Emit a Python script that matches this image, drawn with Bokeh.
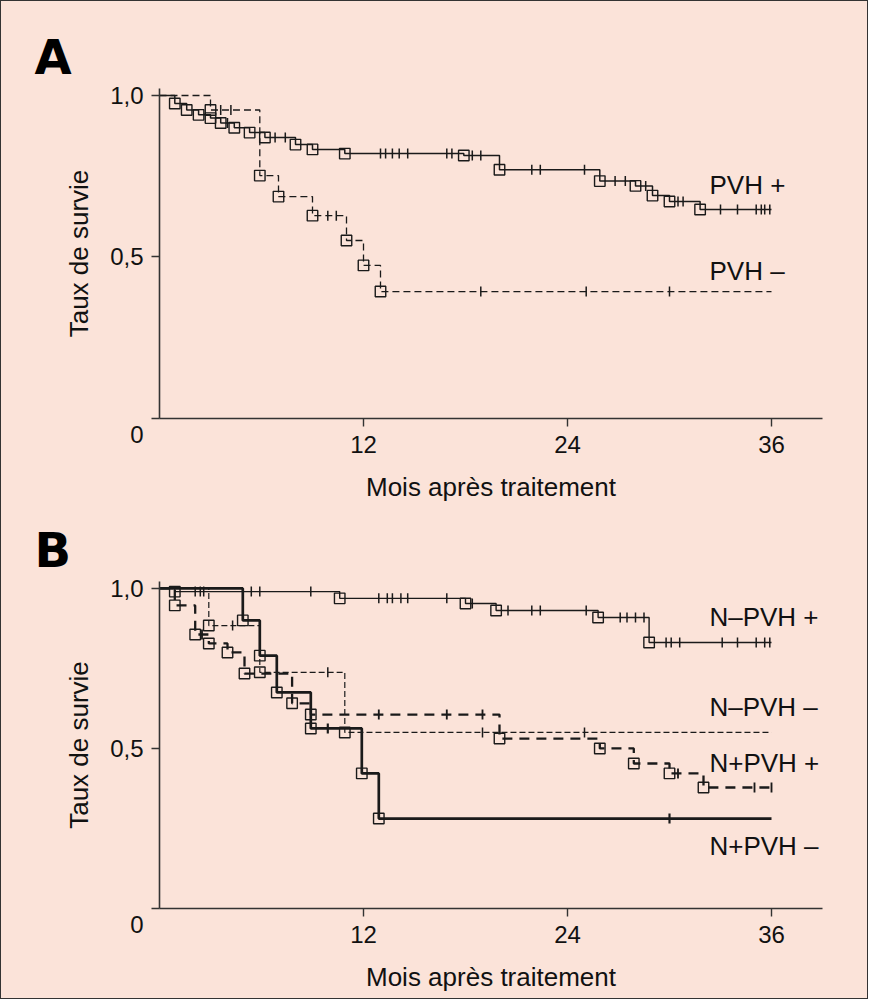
import numpy as np
from bokeh.plotting import figure
from bokeh.models import Label, FixedTicker
from bokeh.layouts import column
from bokeh.embed import file_html
from bokeh.resources import INLINE

# ---------------- data ----------------
x_ticks = [12, 24, 36]
y_ticks = [0, 0.5, 1]
y_tick_labels = ["\n0", "0,5", "1,0"]

# Panel A : PVH +
a_pos_t = [0, 0.9, 1.6, 2.3, 3.0, 3.6, 4.4, 5.3, 6.2, 8.0, 9.0, 10.9, 17.9, 20.0, 25.9, 28.0, 29.0, 30.0, 31.8, 36.0]
a_pos_s = [1.0, 0.975, 0.955, 0.94, 0.93, 0.915, 0.90, 0.885, 0.87, 0.848, 0.833, 0.82, 0.814, 0.77, 0.735, 0.72, 0.69, 0.672, 0.647, 0.647]
a_pos_cens = [4.0, 6.8, 7.4, 13.0, 13.3, 13.7, 14.1, 14.6, 16.9, 17.2, 18.4, 18.9, 21.9, 22.4, 25.0,
              26.8, 27.4, 28.6, 30.5, 30.8, 33.0, 34.0, 35.1, 35.4, 35.6, 35.9]
# Panel A : PVH -
a_neg_t = [0, 3.0, 5.9, 7.0, 9.0, 11.0, 12.0, 13.0, 36.0]
a_neg_s = [1.0, 0.955, 0.752, 0.687, 0.628, 0.551, 0.474, 0.393, 0.393]
a_neg_cens = [3.6, 4.2, 9.9, 10.4, 18.9, 25.1, 30.0]

# Panel B : N-PVH +
b_nnp_t = [0, 0.9, 10.6, 18.0, 19.8, 25.8, 28.8, 36.0]
b_nnp_s = [1.0, 0.99, 0.969, 0.953, 0.931, 0.909, 0.831, 0.831]
b_nnp_cens = [2.1, 2.4, 2.6, 5.4, 5.9, 8.9, 12.9, 13.4, 13.7, 14.2, 14.6, 16.9, 18.4, 20.5, 21.9, 22.4,
              25.1, 27.1, 27.5, 28.0, 28.5, 29.8, 30.1, 30.6, 33.1, 34.0, 35.1, 35.6, 35.9]
# Panel B : N-PVH -
b_nnn_t = [0, 2.9, 5.9, 10.9, 36.0]
b_nnn_s = [1.0, 0.884, 0.738, 0.55, 0.55]
b_nnn_cens = [4.3, 9.9, 19.0, 25.0]
# Panel B : N+PVH +
b_npp_t = [0, 0.9, 2.1, 2.9, 4.0, 5.0, 7.8, 8.9, 20.0, 25.9, 27.9, 30.0, 32.0, 36.0]
b_npp_s = [1.0, 0.947, 0.856, 0.828, 0.80, 0.734, 0.641, 0.606, 0.531, 0.50, 0.453, 0.422, 0.378, 0.378]
b_npp_cens = [2.5, 12.9, 16.9, 19.0, 30.5, 35.0, 36.0]
# Panel B : N+PVH -
b_npn_t = [0, 4.9, 5.9, 6.9, 8.9, 11.9, 12.9, 36.0]
b_npn_s = [1.0, 0.90, 0.79, 0.675, 0.5625, 0.422, 0.281, 0.281]
b_npn_cens = [9.9, 30.0]

# ---------------- style ----------------
BG = "#fbe3d9"
INK = "#1a1a1a"
FONT = "Liberation Sans"
FRAME_W = 663
X_END = 39.0
Y_END = 1.0216
LABEL_X = 32.35


def level_at(ts, ss, t):
    i = int(np.searchsorted(np.array(ts), t, side="right")) - 1
    return ss[max(i, 0)]


def add_curve(p, ts, ss, cens, width, dash):
    p.step(ts, ss, mode="after", line_color=INK, line_width=width, line_dash=dash)
    p.scatter(ts[1:-1], ss[1:-1], marker="square", size=10.5, fill_color=None,
              line_color=INK, line_width=1.4)
    cy = [level_at(ts, ss, t) for t in cens]
    p.scatter(cens, cy, marker="dash", angle=np.pi / 2, size=10,
              line_color=INK, line_width=max(1.5, width * 0.8))


def label(p, x, y, text, size="26px"):
    p.add_layout(Label(x=x, y=y, text=text, text_font=FONT, text_font_size=size,
                       text_align="left", text_baseline="middle", text_color="#111111"))


def make_panel(height, top, frame_h, letter):
    p = figure(width=866, height=height, frame_width=FRAME_W, frame_height=frame_h,
               x_range=(0, X_END), y_range=(0, Y_END),
               output_backend="svg", toolbar_location=None,
               min_border_left=158, min_border_right=866 - 158 - FRAME_W,
               min_border_top=top, min_border_bottom=height - top - frame_h,
               background_fill_color=BG, border_fill_color=BG, outline_line_color=None)
    p.grid.visible = False
    for ax in (p.xaxis, p.yaxis):
        ax.axis_line_color = "#333333"
        ax.axis_line_width = 1.6
        ax.major_tick_line_color = "#333333"
        ax.major_tick_line_width = 1.4
        ax.major_tick_out = 8
        ax.major_tick_in = 0
        ax.minor_tick_out = 0
        ax.minor_tick_in = 0
        ax.major_label_text_font = FONT
        ax.major_label_text_font_size = "24px"
        ax.major_label_text_color = "#111111"
        ax.axis_label_text_font = FONT
        ax.axis_label_text_font_style = "normal"
        ax.axis_label_text_font_size = "26px"
        ax.axis_label_text_color = "#111111"
    p.xaxis.ticker = FixedTicker(ticks=x_ticks)
    p.xaxis.major_label_standoff = 9
    p.xaxis.axis_label = "Mois après traitement"
    p.xaxis.axis_label_standoff = 16
    p.yaxis.ticker = FixedTicker(ticks=y_ticks)
    p.yaxis.major_label_overrides = {k: v for k, v in zip(y_ticks, y_tick_labels)}
    p.yaxis.major_label_standoff = 8
    p.yaxis.axis_label = "Taux de survie"
    p.yaxis.axis_label_standoff = 13
    # panel letter as the figure title
    p.title.text = letter
    p.title.text_font = "DejaVu Sans"
    p.title.text_font_size = "48px"
    p.title.text_font_style = "bold"
    p.title.text_color = "#000000"
    p.title.align = "left"
    p.title.offset = -125
    p.title.standoff = 8
    return p


pA = make_panel(490, 87, 330, "A")
add_curve(pA, a_pos_t, a_pos_s, a_pos_cens, 1.5, "solid")
add_curve(pA, a_neg_t, a_neg_s, a_neg_cens, 1.3, "7 4")
label(pA, LABEL_X, 0.722, "PVH +")
label(pA, LABEL_X, 0.457, "PVH \u2013")

pB = make_panel(494, 77, 327, "B")
add_curve(pB, b_nnp_t, b_nnp_s, b_nnp_cens, 1.4, "solid")
add_curve(pB, b_nnn_t, b_nnn_s, b_nnn_cens, 1.2, "6 3")
add_curve(pB, b_npp_t, b_npp_s, b_npp_cens, 2.3, "10 7")
add_curve(pB, b_npn_t, b_npn_s, b_npn_cens, 2.7, "solid")
label(pB, LABEL_X, 0.910, "N\u2013PVH +")
label(pB, LABEL_X, 0.630, "N\u2013PVH \u2013")
label(pB, LABEL_X, 0.454, "N+PVH +")
label(pB, LABEL_X, 0.194, "N+PVH \u2013")

layout = column(pA, pB, spacing=0,
                styles={"border": "1px solid #333333", "background-color": BG})
open("out.html", "w").write(file_html(layout, INLINE))
